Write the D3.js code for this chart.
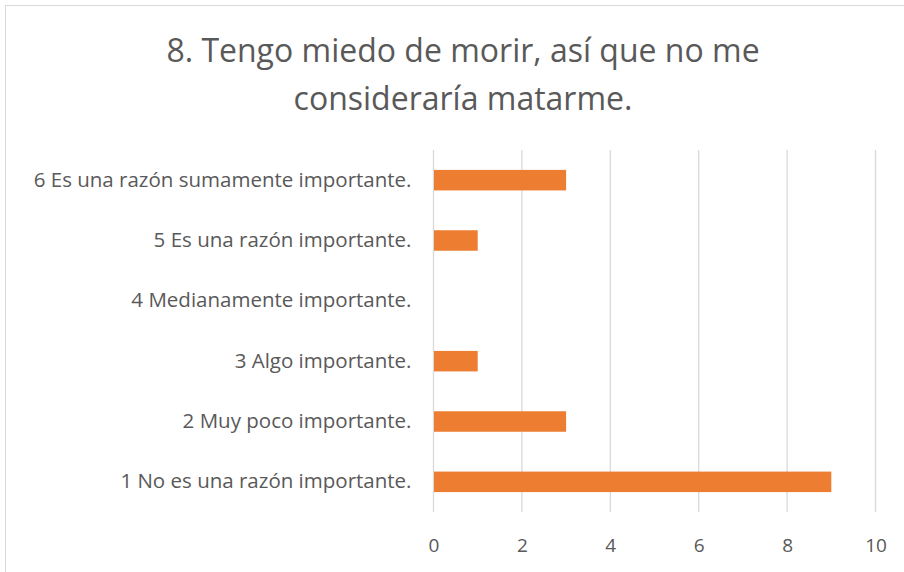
<!DOCTYPE html>
<html><head><meta charset="utf-8">
<script src="https://cdn.jsdelivr.net/npm/d3@7"></script>
<style>body{margin:0;background:#fff}svg{display:block}</style>
</head><body>
<svg id="c" width="904" height="572"></svg>
<script>
const categories = ["1 No es una razón importante.","2 Muy poco importante.","3 Algo importante.","4 Medianamente importante.","5 Es una razón importante.","6 Es una razón sumamente importante."];
const values = [9,3,1,0,1,3];
const ticks = [0,2,4,6,8,10];
const titleLines = ["8. Tengo miedo de morir, así que no me","consideraría matarme."];

const svg = d3.select("#c");
const font = "'Open Sans', sans-serif";
svg.append("rect").attr("x",5.5).attr("y",5.5).attr("width",910).attr("height",580)
  .attr("fill","#fff").attr("stroke","#d9d9d9").attr("stroke-width",1);

const x = d3.scaleLinear().domain([0,10]).range([433.5,875.5]);
const y = d3.scaleBand().domain(categories.slice().reverse()).range([150,512]).paddingInner(0.66).paddingOuter(0.33);

svg.selectAll("text.title").data(titleLines).join("text")
  .attr("x",463).attr("y",(d,i)=>62+i*48).attr("text-anchor","middle")
  .attr("font-family",font).attr("font-size",32).attr("fill","#595959").text(d=>d);

const g = svg.append("g");
g.selectAll("line.grid").data(ticks).join("line")
  .attr("x1",d=>x(d)).attr("x2",d=>x(d)).attr("y1",150).attr("y2",512)
  .attr("stroke","#d9d9d9").attr("stroke-width",1.3);

g.selectAll("rect.bar").data(categories.map((c,i)=>({c,v:values[i]}))).join("rect")
  .attr("x",x(0)+0.5).attr("y",d=>y(d.c)).attr("height",y.bandwidth())
  .attr("width",d=>Math.max(0,x(d.v)-x(0)-0.5)).attr("fill","#ED7D31");

const xa = d3.axisBottom(x).tickValues(ticks).tickSize(0).tickPadding(0);
const xg = svg.append("g").attr("transform","translate(0,545)").call(xa);
xg.select(".domain").remove();
xg.selectAll("text").attr("font-family",font).attr("font-size",19).attr("fill","#595959").attr("dy","0.35em");

const ya = d3.axisLeft(y).tickSize(0).tickPadding(22);
const yg = svg.append("g").attr("transform","translate(433.5,0)").call(ya);
yg.select(".domain").remove();
yg.selectAll("text").attr("font-family",font).attr("font-size",20.5).attr("fill","#595959");
</script>
</body></html>
